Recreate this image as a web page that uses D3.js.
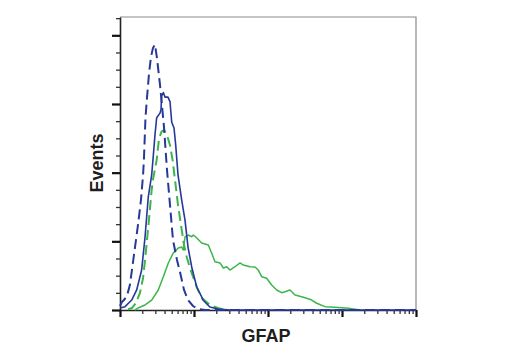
<!DOCTYPE html>
<html>
<head>
<meta charset="utf-8">
<script src="https://cdn.jsdelivr.net/npm/d3@7"></script>
<style>
  html, body { margin: 0; padding: 0; background: #fff; }
  svg { display: block; }
  .lbl { font-family: "Liberation Sans Narrow", "Arial Narrow", "Liberation Sans", Arial, sans-serif; font-weight: bold; fill: #1e1e1e; }
</style>
</head>
<body>
<svg id="chart" width="520" height="350"></svg>
<script>
// GFAP fluorescence (log scale) vs. event counts
const majorTicksX = [1, 10, 100, 1000, 10000];
const majorTicksY = [0, 60, 120, 180, 240];

// Control, blue (dashed)
const blueCtrlX = [1, 1.06, 1.13, 1.24, 1.36, 1.45, 1.59, 1.75, 1.92, 2.05, 2.11, 2.21, 2.32, 2.47, 2.62, 2.79, 2.97,
                   3.16, 3.47, 3.93, 4.32, 4.74, 5.20, 5.89, 6.47, 7.33, 8.30, 9.69, 11.3, 14.1, 10000];
const blueCtrlY = [3.5, 7.0, 8.7, 12.2, 21.8, 34.9, 54.2, 74.3, 96.1, 118, 133, 168, 186, 207, 221, 229, 232,
                   220, 197, 160, 122, 91.7, 61.2, 43.7, 33.2, 17.5, 8.7, 3.5, 0.9, 0, 0];

// Sample, blue (solid)
const blueX = [1, 1.17, 1.44, 1.68, 1.96, 2.18, 2.41, 2.68, 2.82, 2.97, 3.13, 3.47, 3.58, 3.66, 3.85, 4.06, 4.45, 4.74,
               5.00, 5.37, 5.66, 6.08, 6.82, 7.56, 8.30, 9.31, 10.3, 10.9, 12.7, 13.2, 16.4, 21.1, 30.6, 10000];
const blueY = [1.7, 2.9, 8.7, 17.5, 34.9, 63.8, 98.7, 118, 135, 153, 168, 172, 175, 187, 190, 186, 186, 182,
               164, 159, 144, 118, 96.1, 78.6, 55.0, 37.6, 26.2, 20.1, 11.4, 8.7, 2.6, 0.9, 0, 0];

// Control, green (dashed)
const greenCtrlX = [1.28, 1.45, 1.64, 1.86, 2.05, 2.18, 2.41, 2.68, 2.79, 3.13, 3.37, 3.66, 3.85,
                    4.06, 4.45, 4.74, 5.14, 5.53, 6.08, 6.67, 7.33, 8.04, 8.83, 9.40, 11.0, 12.8, 16.4, 21.1, 26.2];
const greenCtrlY = [0.4, 1.7, 6.1, 14.9, 28, 43.7, 72.5, 105, 114, 131, 150, 156, 157,
                    156, 150, 144, 131, 114, 91.7, 74.3, 56.8, 45.4, 36.7, 31.5, 19.2, 10.5, 4.4, 1.7, 0];

// Sample, green (solid)
const greenX = [1.59, 1.75, 2.18, 2.68, 3.29, 3.85, 4.50, 5.25, 6.13, 6.82, 7.17, 7.56, 8.38, 9.31, 9.79, 10.9,
                12.7, 15.6, 17.3, 19.2, 22.5, 24.9, 27.7, 30.6, 35.8, 41.9, 46.4, 57.1, 66.7, 73.9, 82.2, 96.0,
                112, 131, 153, 170, 198, 232, 285, 333, 390, 455, 589, 804, 1217, 1751];
const greenY = [0, 1.7, 4.4, 8.7, 17.5, 29.1, 41.1, 49.8, 54.2, 55.0, 52.4, 63.8, 65.5, 64.0, 65.5, 62.9,
                58.5, 56.8, 49.8, 42.2, 41.1, 36.7, 37.8, 34.9, 37.8, 41.1, 39.3, 37.8, 37.6, 34.9, 29.1, 27.7,
                21.8, 17.5, 15.1, 16.0, 17.5, 13.1, 11.6, 10.2, 8.7, 5.9, 2.9, 2.4, 1.5, 0];

const svg = d3.select("#chart");
const plotL = 120, plotR = 416, plotT = 17, plotB = 310;

const x = d3.scaleLog().domain([1, 10000]).range([plotL, plotR]);
const y = d3.scaleLinear().domain([0, 256]).range([plotB, plotT]);

// Frame: light top and right edges
svg.append("path")
  .attr("d", `M${plotL},${plotT}H${plotR}V${plotB}`)
  .attr("fill", "none").attr("stroke", "#8a8a8a").attr("stroke-width", 1.2);

// Minor ticks at 2..9 within each decade
const minorX = [];
for (let k = 0; k < 4; k++) for (let m = 2; m <= 9; m++) minorX.push(m * Math.pow(10, k));
const minorY = d3.range(15, 256, 15).filter(v => v % 60 !== 0);

const xMinor = svg.append("g").attr("transform", `translate(0,${plotB})`)
  .call(d3.axisBottom(x).tickValues(minorX).tickFormat("").tickSize(4).tickSizeOuter(0));
const xMajor = svg.append("g").attr("transform", `translate(0,${plotB})`)
  .call(d3.axisBottom(x).tickValues(majorTicksX).tickFormat("").tickSize(7).tickSizeOuter(0));
const yMinor = svg.append("g").attr("transform", `translate(${plotL},0)`)
  .call(d3.axisLeft(y).tickValues(minorY).tickFormat("").tickSize(4).tickSizeOuter(0));
const yMajor = svg.append("g").attr("transform", `translate(${plotL},0)`)
  .call(d3.axisLeft(y).tickValues(majorTicksY).tickFormat("").tickSize(8).tickSizeOuter(0));

[xMinor, yMinor].forEach(g => {
  g.selectAll(".domain").attr("stroke", "#222").attr("stroke-width", 1.6);
  g.selectAll(".tick line").attr("stroke", "#333").attr("stroke-width", 1.3);
});
[xMajor, yMajor].forEach(g => {
  g.selectAll(".domain").remove();
  g.selectAll(".tick line").attr("stroke", "#111").attr("stroke-width", 2.2);
});

// Histogram traces
const line = d3.line().x(d => x(d[0])).y(d => y(d[1]));
const zip = (a, b) => a.map((v, i) => [v, b[i]]);

const series = [
  { xs: greenX, ys: greenY, color: "#3db54a", width: 1.5, dash: null },
  { xs: greenCtrlX, ys: greenCtrlY, color: "#3db54a", width: 2, dash: "10,5" },
  { xs: blueCtrlX, ys: blueCtrlY, color: "#27389a", width: 2, dash: "10,5" },
  { xs: blueX, ys: blueY, color: "#27389a", width: 1.6, dash: null }
];
series.forEach(s => {
  svg.append("path")
    .datum(zip(s.xs, s.ys))
    .attr("d", line)
    .attr("fill", "none")
    .attr("stroke", s.color)
    .attr("stroke-width", s.width)
    .attr("stroke-linejoin", "round")
    .attr("stroke-dasharray", s.dash);
});

// Axis titles
svg.append("text").attr("class", "lbl")
  .attr("x", (plotL + plotR) / 2 - 2).attr("y", 342)
  .attr("text-anchor", "middle").attr("font-size", 18)
  .text("GFAP");
svg.append("text").attr("class", "lbl")
  .attr("transform", "translate(103,163) rotate(-90)")
  .attr("text-anchor", "middle").attr("font-size", 18)
  .text("Events");
</script>
</body>
</html>
